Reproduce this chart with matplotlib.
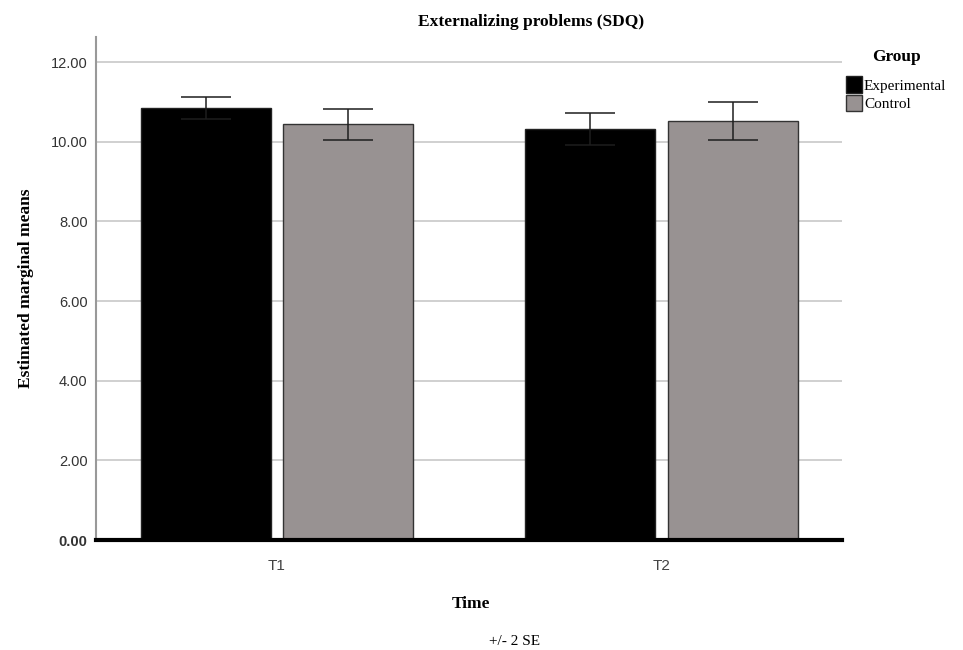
import numpy as np
import matplotlib.pyplot as plt

# Data
times = ["T1", "T2"]
groups = ["Experimental", "Control"]
means_exp = [10.85, 10.32]
means_ctl = [10.44, 10.52]
se2_exp = [0.27, 0.40]   # +/- 2 SE
se2_ctl = [0.39, 0.48]
yticks = [0, 2, 4, 6, 8, 10, 12]

serif = "Liberation Serif"
sans = "Liberation Sans"

fig = plt.figure(figsize=(9.63, 6.5), dpi=100)
ax = fig.add_axes([0.0997, 0.1692, 0.7743, 0.7738])

x = np.arange(len(times))
w = 0.338
off = 0.185
err_kw = dict(ecolor="#1e1e1e", elinewidth=1.1, capsize=18, capthick=1.1)

ax.bar(x - off, means_exp, w, color="black", edgecolor="#222222",
       linewidth=1, yerr=se2_exp, error_kw=err_kw, label=groups[0], zorder=3)
ax.bar(x + off, means_ctl, w, color="#989292", edgecolor="#333333",
       linewidth=1, yerr=se2_ctl, error_kw=err_kw, label=groups[1], zorder=3)

ax.set_xlim(-0.47, 1.468)
ax.set_ylim(0, 12.63)
ax.set_yticks(yticks)
ax.set_yticklabels([f"{v:.2f}" for v in yticks], fontfamily=sans,
                   fontsize=10.5, color="#333333")
ax.get_yticklabels()[0].set_fontweight("bold")
ax.set_xticks(x)
ax.set_xticklabels(times, fontfamily=sans, fontsize=11, color="#444444")
ax.tick_params(axis="both", length=0, pad=6)
ax.tick_params(axis="x", pad=14)

for v in yticks[1:]:
    ax.axhline(v, color="#c8c8c8", linewidth=1.2, zorder=1)

for s in ["top", "right"]:
    ax.spines[s].set_visible(False)
ax.spines["left"].set_color("#999999")
ax.spines["left"].set_linewidth(1.5)
ax.spines["bottom"].set_color("black")
ax.spines["bottom"].set_linewidth(3)
ax.spines["bottom"].set_zorder(5)

ax.set_title("Externalizing problems (SDQ)", fontfamily=serif,
             fontweight="bold", fontsize=12.5, pad=8, x=0.584)
ax.set_ylabel("Estimated marginal means", fontfamily=serif,
              fontweight="bold", fontsize=12.5, labelpad=12)
fig.text(0.489, 0.064, "Time", fontfamily=serif, fontweight="bold",
         fontsize=12.5, ha="center")
fig.text(0.534, 0.008, "+/- 2 SE", fontfamily=serif, fontsize=11,
         ha="center")

leg = ax.legend(loc="upper left", bbox_to_anchor=(0.99, 1.0), frameon=False,
                title="Group", handlelength=1.0, handleheight=1.3,
                handletextpad=0.15, labelspacing=0.1, borderpad=0.3,
                prop={"family": serif, "size": 11})
leg.get_title().set_fontfamily(serif)
leg.get_title().set_fontweight("bold")
leg.get_title().set_fontsize(12.5)
leg._legend_box.sep = 8

fig.savefig("out.png", dpi=100)
